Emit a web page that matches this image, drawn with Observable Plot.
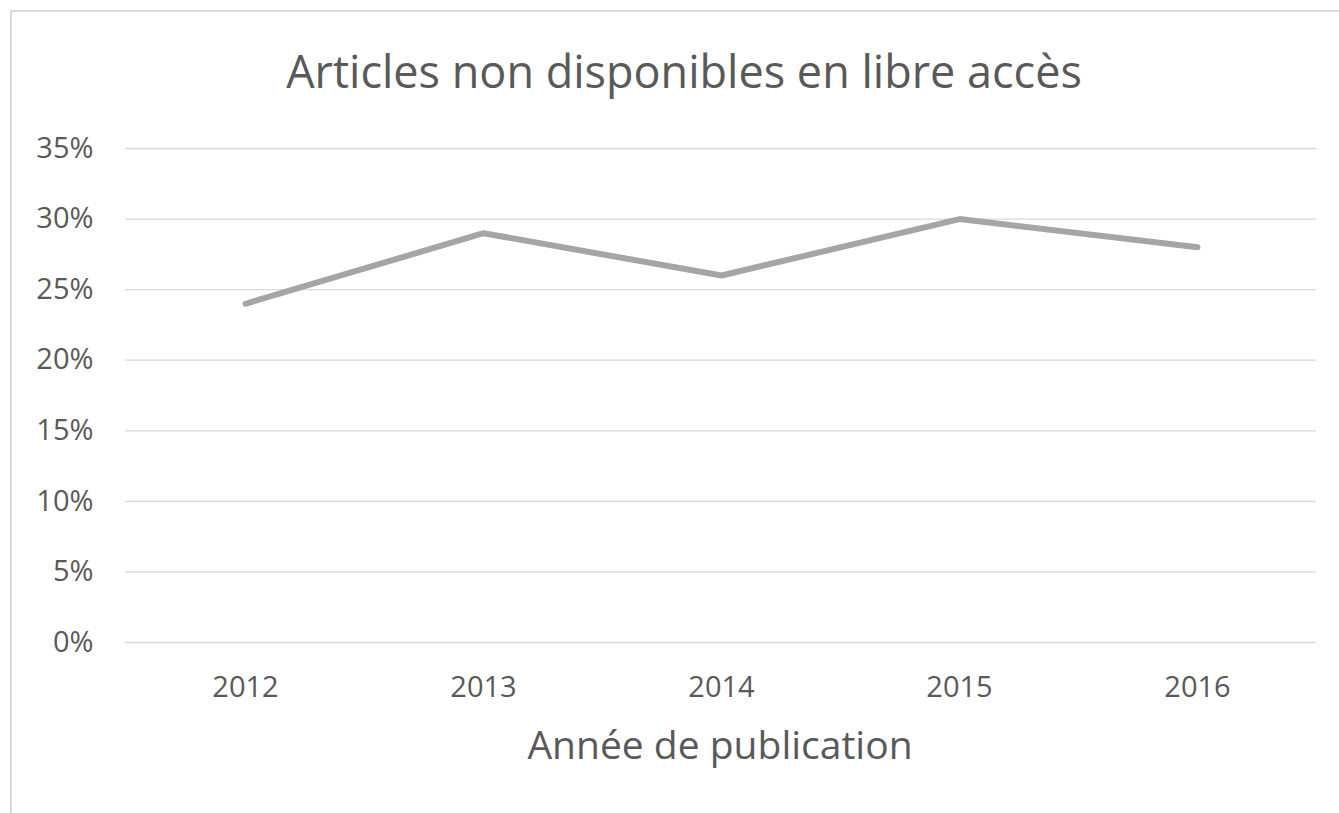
<!DOCTYPE html>
<html>
<head>
<meta charset="utf-8">
<script src="https://cdn.jsdelivr.net/npm/d3@7"></script>
<script src="https://cdn.jsdelivr.net/npm/@observablehq/plot@0.6"></script>
<style>
  html, body { margin: 0; padding: 0; background: #fff; }
  #wrap { position: relative; width: 1339px; height: 813px; overflow: hidden; background: #fff; font-family: "Open Sans", sans-serif; color: #595959; }
  #frame { position: absolute; left: 10px; top: 10px; width: 1360px; height: 840px; border-left: 2px solid #d9d9d9; border-top: 2px solid #d9d9d9; box-sizing: border-box; }
  #title { position: absolute; left: 684px; top: 48px; transform: translateX(-50%); white-space: nowrap; font-size: 45px; line-height: 1; }
  #xlabel { position: absolute; left: 720px; top: 724px; transform: translateX(-50%); white-space: nowrap; font-size: 39px; line-height: 1; }
  #chart { position: absolute; left: 0; top: 0; }
</style>
</head>
<body>
<div id="wrap">
  <div id="frame"></div>
  <div id="chart"></div>
  <div id="title"></div>
  <div id="xlabel"></div>
</div>
<script>
const titleText = "Articles non disponibles en libre accès";
const xLabelText = "Année de publication";
const years = ["2012", "2013", "2014", "2015", "2016"];
const shares = [0.24, 0.29, 0.26, 0.30, 0.28];
const yTicks = [0, 0.05, 0.10, 0.15, 0.20, 0.25, 0.30, 0.35];

const data = years.map((y, i) => ({year: y, value: shares[i]}));

document.getElementById("title").textContent = titleText;
document.getElementById("xlabel").textContent = xLabelText;

const chart = Plot.plot({
  width: 1339,
  height: 813,
  marginTop: 148,
  marginBottom: 171,
  marginLeft: 125,
  marginRight: 23,
  style: {fontFamily: "Open Sans, sans-serif", color: "#595959", background: "transparent", overflow: "visible"},
  x: {type: "point", domain: years, padding: 0.5, label: null},
  y: {domain: [0, 0.35], label: null},
  marks: [
    Plot.ruleY(yTicks, {stroke: "#d9d9d9", strokeWidth: 1.3}),
    Plot.axisY({ticks: yTicks, tickFormat: d3.format(".0%"), tickSize: 0, tickPadding: 32, fontSize: 29, label: null}),
    Plot.axisX({tickSize: 0, tickPadding: 34, fontSize: 29, label: null}),
    Plot.line(data, {x: "year", y: "value", stroke: "#a5a5a5", strokeWidth: 6, strokeLinecap: "round", strokeLinejoin: "round"})
  ]
});
document.getElementById("chart").appendChild(chart);
</script>
</body>
</html>
